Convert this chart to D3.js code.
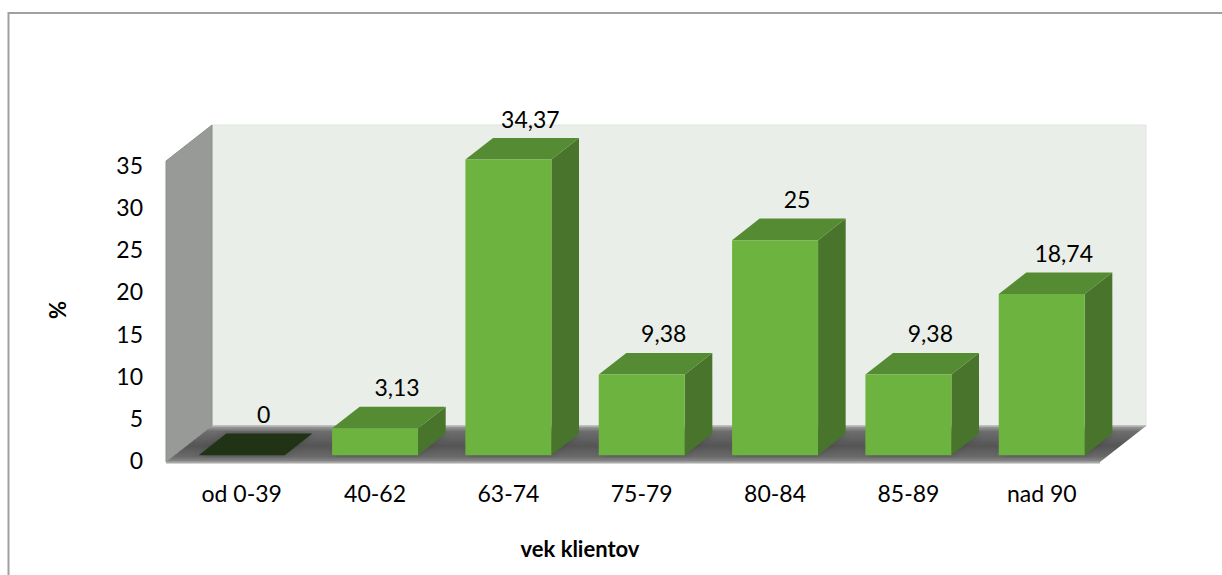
<!DOCTYPE html>
<html>
<head>
<meta charset="utf-8">
<script src="https://cdn.jsdelivr.net/npm/d3@7"></script>
<style>
  html, body { margin: 0; padding: 0; background: #fff; }
  svg { display: block; font-family: Lato, "Open Sans", "Noto Sans", sans-serif; }
</style>
</head>
<body>
<svg id="chart" width="1222" height="575"></svg>
<script>
// ---- data ----
const categories = ["od 0-39", "40-62", "63-74", "75-79", "80-84", "85-89", "nad 90"];
const values = [0, 3.13, 34.37, 9.38, 25, 9.38, 18.74];
const valueLabels = ["0", "3,13", "34,37", "9,38", "25", "9,38", "18,74"];
const yTicks = [0, 5, 10, 15, 20, 25, 30, 35];
const xTitle = "vek klientov";
const yTitle = "%";

// ---- geometry ----
const svg = d3.select("#chart");
const frontLeft = 166, frontRight = 1100, baseY = 462;
const depth = { dx: 46, dy: -36 };
const barD0 = 0.19, barD1 = 0.79;

const x = d3.scaleBand().domain(categories).range([frontLeft, frontRight]).paddingInner(0.355).paddingOuter(0.18);
const y = d3.scaleLinear().domain([0, 35]).range([baseY, 161]);
const yTick = d3.scaleLinear().domain([0, 35]).range([460, 165]);

function P(px, py, d) { return [px + depth.dx * d, py + depth.dy * d]; }
function poly(pts) { return "M" + pts.map(p => p.join(",")).join("L") + "Z"; }

// gradients
const defs = svg.append("defs");
const fg = defs.append("linearGradient").attr("id", "floorGrad").attr("x1", 0).attr("y1", 0).attr("x2", 0).attr("y2", 1);
fg.append("stop").attr("offset", "0%").attr("stop-color", "#a3a3a3");
fg.append("stop").attr("offset", "15%").attr("stop-color", "#6e6e6e");
fg.append("stop").attr("offset", "55%").attr("stop-color", "#555555");
fg.append("stop").attr("offset", "85%").attr("stop-color", "#6a6a6a");
fg.append("stop").attr("offset", "100%").attr("stop-color", "#8c8c8c");
defs.append("filter").attr("id", "blur").append("feGaussianBlur").attr("stdDeviation", 3);

// outer frame
svg.append("rect").attr("x", 8.5).attr("y", 13).attr("width", 1300).attr("height", 700)
  .attr("fill", "#fff").attr("stroke", "#a0a0a0").attr("stroke-width", 2);

const yTop = 35;
// back wall
svg.append("path").attr("d", poly([P(frontLeft, y(yTop), 1), P(frontRight, y(yTop), 1), P(frontRight, y(0), 1), P(frontLeft, y(0), 1)]))
  .attr("fill", "#e9eee8").attr("stroke", "#dfe5de").attr("stroke-width", 1);
// side wall
svg.append("path").attr("d", poly([[frontLeft, y(yTop)], P(frontLeft, y(yTop), 1), P(frontLeft, y(0), 1), [frontLeft, y(0)]]))
  .attr("fill", "#979a96").attr("stroke", "#8d908c").attr("stroke-width", 1);
// floor
svg.append("path").attr("d", poly([[frontLeft, y(0)], P(frontLeft, y(0), 1), P(frontRight, y(0), 1), [frontRight, y(0)]]))
  .attr("fill", "url(#floorGrad)");
svg.append("line").attr("x1", frontLeft).attr("x2", frontRight).attr("y1", y(0) + 0.5).attr("y2", y(0) + 0.5)
  .attr("stroke", "#a8a8a8").attr("stroke-width", 2);
svg.append("line").attr("x1", P(frontLeft, y(0), 1)[0]).attr("x2", P(frontRight, y(0), 1)[0])
  .attr("y1", y(0) + depth.dy).attr("y2", y(0) + depth.dy).attr("stroke", "#b4b4b4").attr("stroke-width", 1.5);

// bars
const bars = svg.append("g").selectAll("g").data(categories).join("g");
bars.each(function (c, i) {
  const g = d3.select(this);
  const v = values[i];
  const xl = x(c), xr = x(c) + x.bandwidth();
  const yb = y(0), yt = y(v);
  g.append("path").attr("d", poly([P(xl, yb, barD0), P(xl, yb, barD1), P(xr, yb, barD1), P(xr, yb, barD0)]))
    .attr("fill", "#3a3a3a").attr("opacity", 0.5).attr("filter", "url(#blur)");
  if (v === 0) {
    g.append("path").attr("d", poly([P(xl, yb, barD0), P(xl, yb, barD1), P(xr, yb, barD1), P(xr, yb, barD0)]))
      .attr("fill", "#203315");
    return;
  }
  g.append("path").attr("d", poly([P(xr, yt, barD0), P(xr, yt, barD1), P(xr, yb, barD1), P(xr, yb, barD0)]))
    .attr("fill", "#48752b");
  g.append("path").attr("d", poly([P(xl, yt, barD0), P(xl, yt, barD1), P(xr, yt, barD1), P(xr, yt, barD0)]))
    .attr("fill", "#558b32");
  g.append("path").attr("d", poly([P(xl, yt, barD0), P(xr, yt, barD0), P(xr, yb, barD0), P(xl, yb, barD0)]))
    .attr("fill", "#6db33f");
});

// value labels
svg.append("g").selectAll("text").data(categories).join("text")
  .attr("x", (c) => x(c) + x.bandwidth() / 2 + depth.dx * barD0 + 22)
  .attr("y", (c, i) => y(values[i]) + depth.dy * barD0 - 41)
  .attr("text-anchor", "middle").attr("dominant-baseline", "central")
  .attr("font-size", 23).attr("fill", "#000")
  .text((c, i) => valueLabels[i]);

// y tick labels
svg.append("g").selectAll("text").data(yTicks).join("text")
  .attr("x", 143).attr("y", d => yTick(d))
  .attr("text-anchor", "end").attr("dominant-baseline", "central")
  .attr("font-size", 23).attr("fill", "#000")
  .text(d => d);

// category labels
svg.append("g").selectAll("text").data(categories).join("text")
  .attr("x", c => x(c) + x.bandwidth() / 2 + depth.dx * barD0)
  .attr("y", 493)
  .attr("text-anchor", "middle").attr("dominant-baseline", "central")
  .attr("font-size", 23).attr("fill", "#000")
  .text(c => c);

// axis titles
svg.append("text").attr("x", 580).attr("y", 548).attr("text-anchor", "middle").attr("dominant-baseline", "central")
  .attr("font-size", 22).attr("font-weight", "bold").text(xTitle);
svg.append("text").attr("transform", "translate(57,310) rotate(-90)").attr("text-anchor", "middle").attr("dominant-baseline", "central")
  .attr("font-size", 22).attr("font-weight", "bold").text(yTitle);
</script>
</body>
</html>
